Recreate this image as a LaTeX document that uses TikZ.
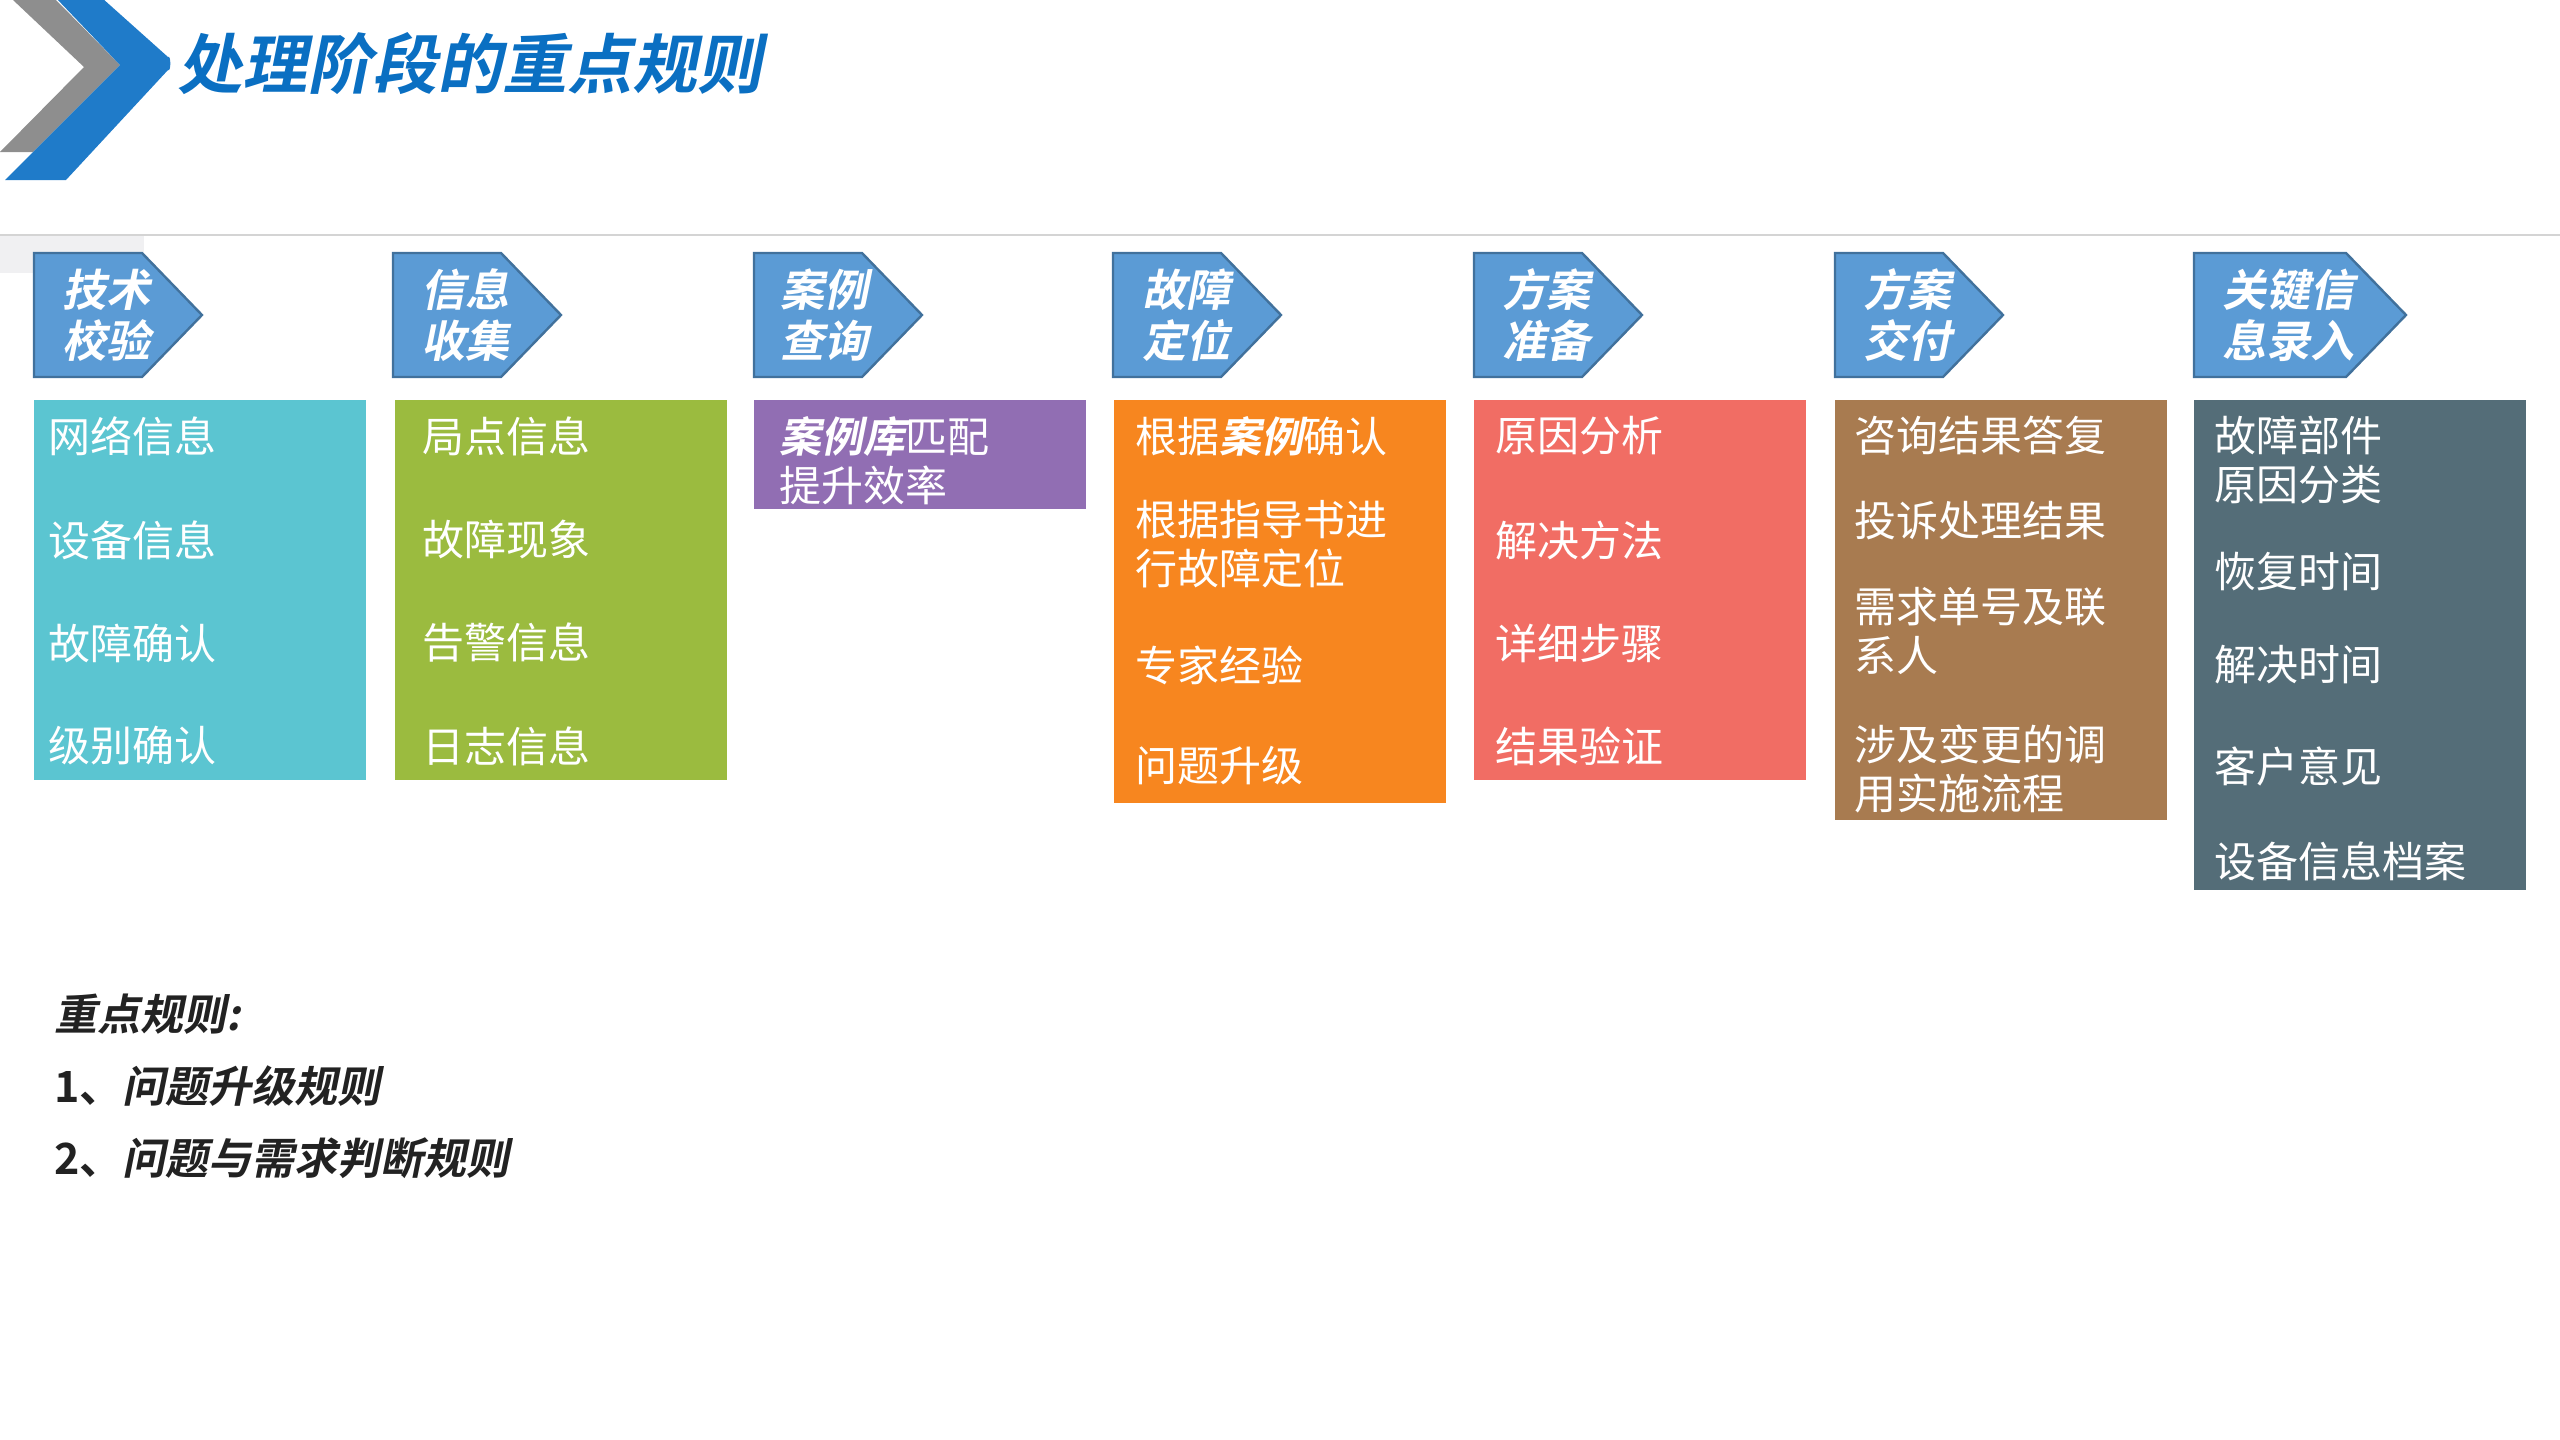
\documentclass[tikz,border=0pt]{standalone}
\usepackage{fontspec}
\newfontfamily\cjk{Noto Sans CJK SC}
\newfontfamily\cjkbi{Noto Sans CJK SC Bold}[FakeSlant=0.2]
\newfontfamily\cjkb{Noto Sans CJK SC Bold}
\definecolor{logoblue}{HTML}{1F7BC9}
\definecolor{logogray}{HTML}{8E8E8E}
\definecolor{titleblue}{HTML}{0A6FC2}
\definecolor{hdrblue}{HTML}{5B9BD5}
\definecolor{hdrline}{HTML}{41719C}
\definecolor{cteal}{HTML}{5BC5D1}
\definecolor{cgreen}{HTML}{9BBB3F}
\definecolor{cpurple}{HTML}{916EB3}
\definecolor{corange}{HTML}{F7861F}
\definecolor{csalmon}{HTML}{F16D64}
\definecolor{cbrown}{HTML}{A87B50}
\definecolor{cslate}{HTML}{546D78}
\definecolor{rulegray}{HTML}{D4D4D4}
\definecolor{tabgray}{HTML}{F0F0F2}
\definecolor{darktext}{HTML}{222222}
\newcommand\hchev[2]{\filldraw[chev] (#1,253) -- ({#1+#2-60},253) -- ({#1+#2},315) -- ({#1+#2-60},377) -- (#1,377) -- cycle;}
\begin{document}
\begin{tikzpicture}[x=0.5pt,y=-0.5pt,
  chev/.style={fill=hdrblue, draw=hdrline, line width=1.2pt},
  item/.style={anchor=west, inner sep=0, text=white, font=\cjk\fontsize{21}{24.5}\selectfont, align=left},
  hdrtext/.style={anchor=west, inner sep=0, text=white, font=\cjkbi\fontsize{22}{25.5}\selectfont, align=left},
  rule/.style={anchor=west, inner sep=0, text=darktext, font=\cjkbi\fontsize{21.5}{25}\selectfont},
]
\useasboundingbox (0,0) rectangle (2560,1440);
% logo
\fill[logogray] (13,0) -- (56,0) -- (120,65) -- (33,152) -- (0,152) -- (84,67) -- cycle;
\fill[logoblue] (56,-2) -- (102,-2) -- (168,57) to[out=40,in=-40,looseness=0.8] (168,70) -- (66,180) -- (5,180) -- (120,65) -- cycle;
% title
\node[anchor=west, inner sep=0, text=titleblue, font=\cjkbi\fontsize{32.5}{36}\selectfont] (title) at (177,64) {处理阶段的重点规则};
% rule line and tab
\fill[tabgray] (0,236) rectangle (144,273);
\draw[rulegray, line width=1pt] (0,235) -- (2560,235);
% header chevrons
\hchev{34}{168}
\hchev{393}{168}
\hchev{754}{168}
\hchev{1113}{168}
\hchev{1474}{168}
\hchev{1835}{168}
\hchev{2194}{212}
\node[hdrtext] (h1) at (62,315) {技术\\校验};
\node[hdrtext] (h2) at (421,315) {信息\\收集};
\node[hdrtext] (h3) at (780,315) {案例\\查询};
\node[hdrtext] (h4) at (1142,315) {故障\\定位};
\node[hdrtext] (h5) at (1502,315) {方案\\准备};
\node[hdrtext] (h6) at (1863,315) {方案\\交付};
\node[hdrtext] (h7) at (2222,315) {关键信\\息录入};
% boxes
\fill[cteal] (34,400) rectangle (366,780);
\fill[cgreen] (395,400) rectangle (727,780);
\fill[cpurple] (754,400) rectangle (1086,509);
\fill[corange] (1114,400) rectangle (1446,803);
\fill[csalmon] (1474,400) rectangle (1806,780);
\fill[cbrown] (1835,400) rectangle (2167,820);
\fill[cslate] (2194,400) rectangle (2526,890);
% column 1
\node[item] (a1) at (48,436) {网络信息};
\node[item] (a2) at (48,540) {设备信息};
\node[item] (a3) at (48,643) {故障确认};
\node[item] (a4) at (48,746) {级别确认};
% column 2
\node[item] (b1) at (422,436) {局点信息};
\node[item] (b2) at (422,540) {故障现象};
\node[item] (b3) at (422,643) {告警信息};
\node[item] (b4) at (422,746) {日志信息};
% column 3
\node[item] (c1) at (779,460.5) {{\cjkbi 案例库}匹配\\提升效率};
% column 4
\node[item] (d1) at (1135,436) {根据{\cjkbi 案例}确认};
\node[item] (d2) at (1135,544.5) {根据指导书进\\行故障定位};
\node[item] (d3) at (1135,665) {专家经验};
\node[item] (d4) at (1135,766) {问题升级};
% column 5
\node[item] (e1) at (1495,436) {原因分析};
\node[item] (e2) at (1495,540) {解决方法};
\node[item] (e3) at (1495,643) {详细步骤};
\node[item] (e4) at (1495,746) {结果验证};
% column 6
\node[item] (f1) at (1854,436) {咨询结果答复};
\node[item] (f2) at (1854,521) {投诉处理结果};
\node[item] (f3) at (1854,631) {需求单号及联\\系人};
\node[item] (f4) at (1854,768.5) {涉及变更的调\\用实施流程};
% column 7
\node[item] (g1) at (2214,460.5) {故障部件\\原因分类};
\node[item] (g2) at (2214,572) {恢复时间};
\node[item] (g3) at (2214,665) {解决时间};
\node[item] (g4) at (2214,766) {客户意见};
\node[item] (g5) at (2214,861) {设备信息档案};
% rules
\node[rule] (r0) at (54,1014) {重点规则:};
\node[rule] (r1) at (54,1086) {{\cjkb 1、}问题升级规则};
\node[rule] (r2) at (54,1158) {{\cjkb 2、}问题与需求判断规则};
\end{tikzpicture}
\end{document}
